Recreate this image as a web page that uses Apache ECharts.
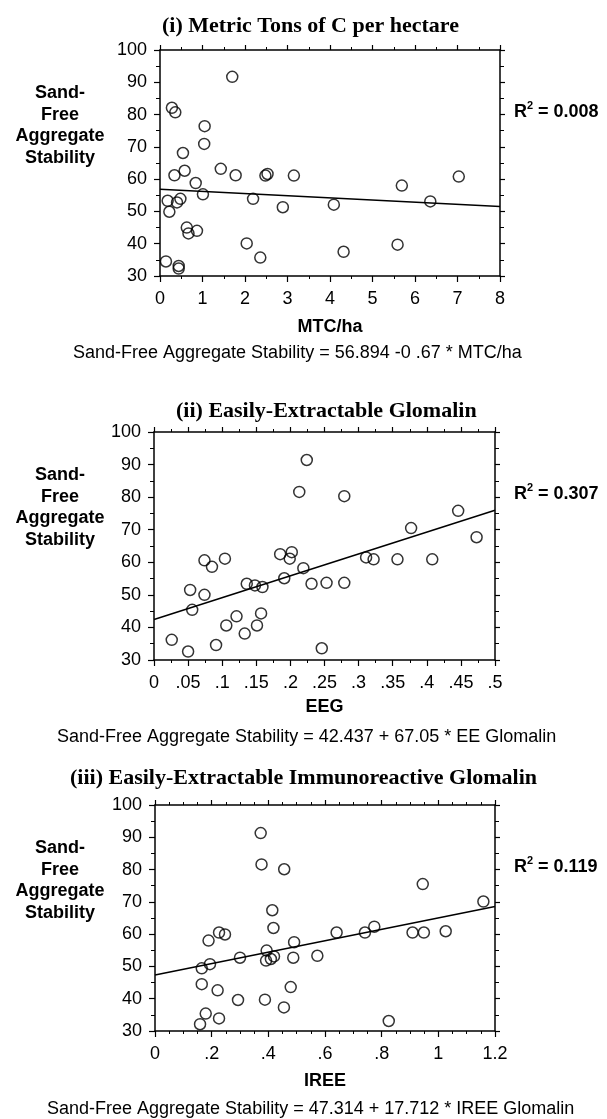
<!DOCTYPE html>
<html>
<head>
<meta charset="utf-8">
<script src="https://cdn.jsdelivr.net/npm/echarts@6/dist/echarts.min.js"></script>
<style>
html,body{margin:0;padding:0;background:#fff;}
#c{width:607px;height:1119px;}
</style>
</head>
<body>
<div id="c"></div>
<script>
// ---------- data ----------
const mtcX = [1.70,0.28,0.36,1.05,1.04,0.54,0.58,1.43,0.34,1.78,2.48,2.53,3.15,7.03,0.84,5.69,1.01,0.18,0.48,0.40,2.19,6.36,4.09,2.89,0.22,0.63,0.67,0.87,2.04,5.59,4.32,2.36,0.14,0.44,0.44];
const mtcY = [91.7,82.1,80.7,76.4,70.9,68.1,62.6,63.2,61.2,61.2,61.1,61.6,61.1,60.8,58.8,58.0,55.3,53.3,53.9,52.8,53.9,53.1,52.1,51.3,49.9,45.0,43.2,44.0,40.1,39.7,37.5,35.7,34.5,33.1,32.3];

const eegX = [0.224,0.213,0.279,0.446,0.377,0.473,0.185,0.202,0.199,0.074,0.104,0.085,0.311,0.322,0.357,0.408,0.219,0.191,0.136,0.148,0.159,0.231,0.253,0.279,0.053,0.074,0.056,0.121,0.157,0.106,0.151,0.133,0.026,0.091,0.246,0.050];
const eegY = [91.4,81.6,80.3,75.8,70.5,67.7,62.5,63.1,61.1,60.6,61.1,58.6,61.5,60.9,60.9,60.9,58.2,55.1,53.4,52.9,52.4,53.4,53.7,53.7,51.5,50.0,45.4,43.4,44.3,40.6,40.6,38.1,36.2,34.6,33.6,32.6];

const ireeX = [0.373,0.376,0.456,0.945,1.159,0.414,0.418,0.226,0.247,0.189,0.641,0.741,0.774,0.909,0.949,1.026,0.491,0.394,0.300,0.392,0.409,0.420,0.488,0.573,0.194,0.165,0.165,0.221,0.479,0.293,0.388,0.455,0.179,0.226,0.159,0.825];
const ireeY = [91.3,81.6,80.1,75.5,70.1,67.4,61.9,60.5,59.9,58.0,60.5,60.5,62.3,60.5,60.5,60.9,57.5,54.9,52.7,51.8,52.3,53.1,52.7,53.3,50.7,49.4,44.5,42.6,43.6,39.6,39.7,37.3,35.4,33.9,32.1,33.1];

// regression lines (intercept, slope) as printed
const fitIntercepts = [56.894, 42.437, 47.314];
const fitSlopes = [-0.67, 67.05, 17.712];

const titles = ['(i) Metric Tons of C per hectare', '(ii) Easily-Extractable Glomalin', '(iii) Easily-Extractable Immunoreactive Glomalin'];
const xNames = ['MTC/ha', 'EEG', 'IREE'];
const equations = [
  'Sand-Free Aggregate Stability = 56.894 -0 .67 * MTC/ha',
  'Sand-Free Aggregate Stability = 42.437 + 67.05 * EE Glomalin',
  'Sand-Free Aggregate Stability = 47.314 + 17.712 * IREE Glomalin'
];
const rSquared = ['0.008', '0.307', '0.119'];
const yNameLines = ['Sand-', 'Free', 'Aggregate', 'Stability'];

const xMins = [0, 0, 0];
const xMaxs = [8, 0.5, 1.2];
const xIntervals = [1, 0.05, 0.2];
const xMinorSplits = [2, 2, 4];
const yMin = 30, yMax = 100, yInterval = 10;

// ---------- layout ----------
const panels = [
  {left:160, right:500, top:50, bottom:276, titleY:26, titleX:162, nameY:327, eqX:73, eqY:353},
  {left:154, right:495, top:432, bottom:660, titleY:411, titleX:176, nameY:707, eqX:57, eqY:737},
  {left:155, right:495, top:805, bottom:1031, titleY:778, titleX:70, nameY:1081, eqX:47, eqY:1109}
];
const W = 607;
const SANS = '"Liberation Sans", Arial, sans-serif';
const SERIF = '"Liberation Serif", "Times New Roman", serif';

const fmt = v => String(+(+v).toFixed(3)).replace(/^0\./, '.');

const axisLine = {show:true, onZero:false, lineStyle:{color:'#000', width:1.5}};
const grids = [], xAxes = [], yAxes = [], series = [], graphics = [];
const xs = [mtcX, eegX, ireeX], ys = [mtcY, eegY, ireeY];

panels.forEach((p, i) => {
  grids.push({left:p.left, width:p.right - p.left, top:p.top, height:p.bottom - p.top, containLabel:false});
  const xBase = {type:'value', gridIndex:i, min:xMins[i], max:xMaxs[i], interval:xIntervals[i],
    axisLine:axisLine, splitLine:{show:false}};
  xAxes.push(Object.assign({}, xBase, {position:'bottom',
    axisTick:{show:true, inside:false, length:6, lineStyle:{color:'#000', width:1.2}},
    minorTick:{show:true, splitNumber:xMinorSplits[i], length:3, lineStyle:{color:'#000', width:1}},
    axisLabel:{show:true, margin:14, color:'#000', fontSize:18, fontFamily:SANS, formatter:fmt}}));
  xAxes.push(Object.assign({}, xBase, {position:'top',
    axisTick:{show:true, inside:false, length:5, lineStyle:{color:'#000', width:1.2}},
    minorTick:{show:true, splitNumber:xMinorSplits[i], length:3, lineStyle:{color:'#000', width:1}},
    axisLabel:{show:false}}));
  const yBase = {type:'value', gridIndex:i, min:yMin, max:yMax, interval:yInterval,
    axisLine:axisLine, splitLine:{show:false}};
  yAxes.push(Object.assign({}, yBase, {position:'left',
    axisTick:{show:true, inside:false, length:6, lineStyle:{color:'#000', width:1.2}},
    minorTick:{show:true, splitNumber:2, length:4, lineStyle:{color:'#000', width:1}},
    axisLabel:{show:true, margin:13, color:'#000', fontSize:18, fontFamily:SANS}}));
  yAxes.push(Object.assign({}, yBase, {position:'right',
    axisTick:{show:true, inside:false, length:5, lineStyle:{color:'#000', width:1.2}},
    minorTick:{show:true, splitNumber:2, length:4, lineStyle:{color:'#000', width:1}},
    axisLabel:{show:false}}));

  const pts = xs[i].map((x, k) => [x, ys[i][k]]);
  series.push({type:'scatter', xAxisIndex:2*i, yAxisIndex:2*i, data:pts, symbol:'circle', symbolSize:11,
    itemStyle:{color:'rgba(255,255,255,0)', borderColor:'#000', borderWidth:1.5}, z:3, silent:true});
  const x0 = xMins[i], x1 = xMaxs[i];
  series.push({type:'line', xAxisIndex:2*i, yAxisIndex:2*i, symbol:'none', silent:true, z:2,
    data:[[x0, fitIntercepts[i] + fitSlopes[i]*x0], [x1, fitIntercepts[i] + fitSlopes[i]*x1]],
    lineStyle:{color:'#000', width:1.5}});

  // texts
  graphics.push({type:'text', x:p.titleX, y:p.titleY, style:{text:titles[i], font:'bold 22px ' + SERIF, fill:'#000',
    align:'left', verticalAlign:'middle', textAlign:'left', textVerticalAlign:'middle'}});
  yNameLines.forEach((ln, j) => {
    graphics.push({type:'text', x:60, y:p.top + 43 + j*21.7, style:{text:ln, font:'bold 18px ' + SANS, fill:'#000',
      align:'center', verticalAlign:'middle', textAlign:'center', textVerticalAlign:'middle'}});
  });
  graphics.push({type:'text', x:(p.left + p.right)/2, y:p.nameY, style:{text:xNames[i], font:'bold 18px ' + SANS, fill:'#000',
    align:'center', verticalAlign:'middle', textAlign:'center', textVerticalAlign:'middle'}});
  graphics.push({type:'text', x:p.eqX, y:p.eqY, style:{text:equations[i], font:'18px ' + SANS, fill:'#000',
    align:'left', verticalAlign:'middle', textAlign:'left', textVerticalAlign:'middle'}});
  const rY = p.top + 62;
  graphics.push({type:'text', x:514, y:rY, style:{text:'R', font:'bold 18px ' + SANS, fill:'#000',
    align:'left', verticalAlign:'middle', textAlign:'left', textVerticalAlign:'middle'}});
  graphics.push({type:'text', x:527, y:rY - 6, style:{text:'2', font:'bold 11px ' + SANS, fill:'#000',
    align:'left', verticalAlign:'middle', textAlign:'left', textVerticalAlign:'middle'}});
  graphics.push({type:'text', x:533, y:rY, style:{text:' = ' + rSquared[i], font:'bold 18px ' + SANS, fill:'#000',
    align:'left', verticalAlign:'middle', textAlign:'left', textVerticalAlign:'middle'}});
});

const chart = echarts.init(document.getElementById('c'), null, {renderer:'canvas'});
chart.setOption({
  backgroundColor:'#fff',
  animation:false,
  grid:grids, xAxis:xAxes, yAxis:yAxes, series:series, graphic:graphics
});
</script>
</body>
</html>
